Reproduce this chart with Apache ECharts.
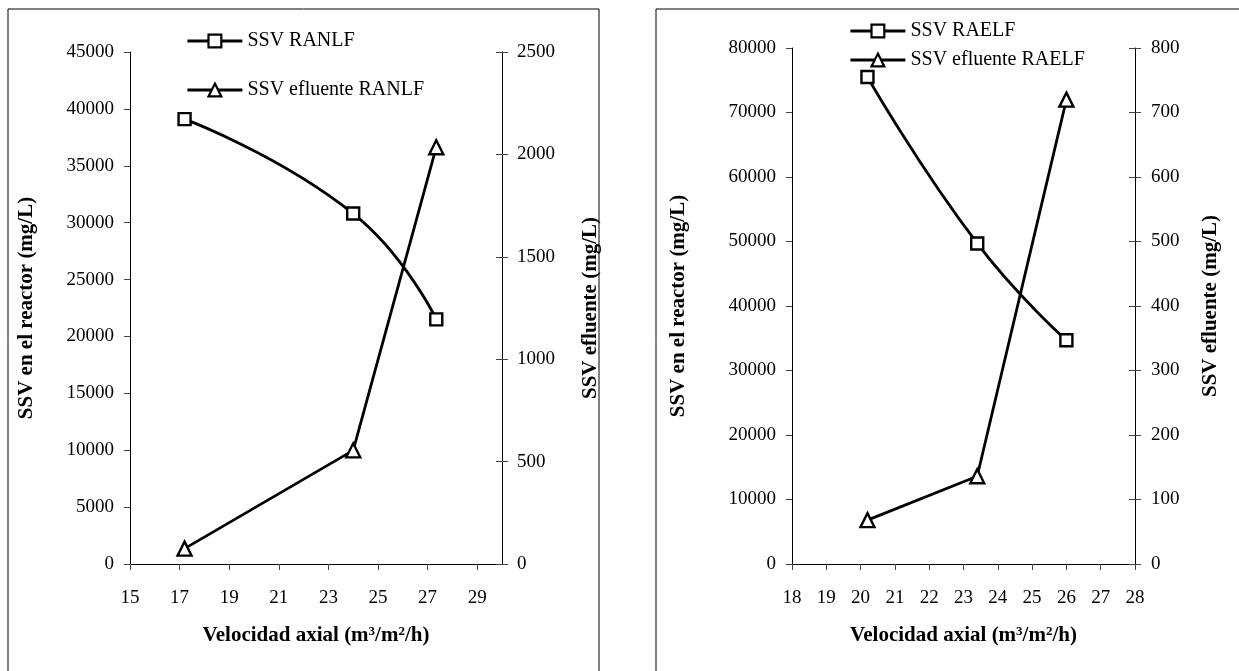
<!DOCTYPE html>
<html><head><meta charset="utf-8">
<script src="https://cdn.jsdelivr.net/npm/echarts@6/dist/echarts.min.js"></script>
<style>html,body{margin:0;padding:0;background:#fff}#c{width:1239px;height:671px}</style>
</head><body><div id="c"></div>
<script>
// ---- data ----
const ranlfX = [17.2, 24.0, 27.35];
const ranlfReactor = [39100, 30800, 21500];
const ranlfEffluent = [75, 555, 2035];
const raelfX = [20.2, 23.4, 26.0];
const raelfReactor = [75500, 49700, 34700];
const raelfEffluent = [68, 136, 720];
const namesLeft = ['SSV RANLF', 'SSV efluente RANLF'];
const namesRight = ['SSV RAELF', 'SSV efluente RAELF'];
const xTitle = 'Velocidad axial (m{sup|3}/m{sup|2}/h)';
const yLeftTitle = 'SSV en el reactor (mg/L)';
const yRightTitle = 'SSV efluente (mg/L)';

const FONT = '"Liberation Serif", "Times New Roman", serif';
const pair = (xs, ys) => xs.map((x, i) => [x, ys[i]]);

const lab = {fontFamily: FONT, fontSize: 19, color: '#000', formatter: v => String(v)};
const nameStyle = {fontFamily: FONT, fontSize: 21, fontWeight: 'bold', color: '#000'};
const xNameStyle = Object.assign({}, nameStyle, {rich: {sup: {fontFamily: FONT, fontSize: 13, fontWeight: 'bold', color: '#000', verticalAlign: 'top', padding: [0, 0, 9, 0]}}});

function xAxis(grid, min, max, interval, showMax) {
  return {type: 'value', gridIndex: grid, min, max, interval,
    name: xTitle, nameLocation: 'middle', nameGap: 61, nameTextStyle: xNameStyle,
    axisLine: {lineStyle: {color: '#000', width: 1}},
    axisTick: {show: true, length: 6, lineStyle: {color: '#444'}},
    axisLabel: Object.assign({margin: 25, showMaxLabel: showMax}, lab),
    splitLine: {show: false}};
}
function yAxis(grid, pos, min, max, interval, name, nameGap, margin) {
  return {type: 'value', gridIndex: grid, position: pos, min, max, interval,
    name, nameLocation: 'middle', nameGap, nameTextStyle: nameStyle,
    axisLine: {show: true, lineStyle: {color: '#000', width: 1}},
    axisTick: {show: true, length: 6, lineStyle: {color: '#444'}},
    axisLabel: Object.assign({margin}, lab),
    splitLine: {show: false}};
}
function yInner(grid, pos, min, max, interval) {
  return {type: 'value', gridIndex: grid, position: pos, min, max, interval,
    axisLine: {show: false}, axisTick: {show: true, inside: true, length: 6, lineStyle: {color: '#444'}},
    axisLabel: {show: false}, splitLine: {show: false}};
}
function series(name, data, xi, yi, sym, smooth) {
  return {name, type: 'line', xAxisIndex: xi, yAxisIndex: yi, data, smooth,
    symbol: sym, symbolSize: sym === 'rect' ? 12 : 14, showSymbol: true,
    lineStyle: {color: '#000', width: 2.8},
    itemStyle: {color: '#fff', borderColor: '#000', borderWidth: 2.4},
    z: 3};
}

const legText = {fontFamily: FONT, fontSize: 20, color: '#000'};
const legCommon = {orient: 'vertical', itemWidth: 55, itemHeight: 16, textStyle: legText,
  lineStyle: {width: 2.8, color: '#000'}, itemStyle: {borderWidth: 2.2, borderColor: '#000', color: '#fff'}};
const chart = echarts.init(document.getElementById('c'), null, {renderer: 'canvas'});
chart.setOption({
  animation: false,
  backgroundColor: '#fff',
  graphic: [
    {type: 'rect', shape: {x: 8, y: 9, width: 591, height: 700}, style: {fill: 'none', stroke: '#000', lineWidth: 1}},
    {type: 'rect', shape: {x: 656, y: 9, width: 600, height: 700}, style: {fill: 'none', stroke: '#000', lineWidth: 1}}
  ],
  grid: [
    {left: 130, top: 52, width: 372, height: 512},
    {left: 792, top: 48, width: 343, height: 516}
  ],
  legend: [
    Object.assign({left: 181, top: 26, itemGap: 29, data: namesLeft}, legCommon),
    Object.assign({left: 844, top: 16, itemGap: 9, data: namesRight}, legCommon)
  ],
  xAxis: [xAxis(0, 15, 30, 2, false), xAxis(1, 18, 28, 1, true)],
  yAxis: [
    yAxis(0, 'left', 0, 45000, 5000, yLeftTitle, 93, 16),
    yAxis(0, 'right', 0, 2500, 500, yRightTitle, 78, 15),
    yAxis(1, 'left', 0, 80000, 10000, yLeftTitle, 103, 16),
    yAxis(1, 'right', 0, 800, 100, yRightTitle, 65, 16),
    yInner(0, 'right', 0, 2500, 500),
    yInner(1, 'right', 0, 800, 100)
  ],
  series: [
    series(namesLeft[0], pair(ranlfX, ranlfReactor), 0, 0, 'rect', true),
    series(namesLeft[1], pair(ranlfX, ranlfEffluent), 0, 1, 'triangle', false),
    series(namesRight[0], pair(raelfX, raelfReactor), 1, 2, 'rect', true),
    series(namesRight[1], pair(raelfX, raelfEffluent), 1, 3, 'triangle', false)
  ]
});
</script></body></html>
